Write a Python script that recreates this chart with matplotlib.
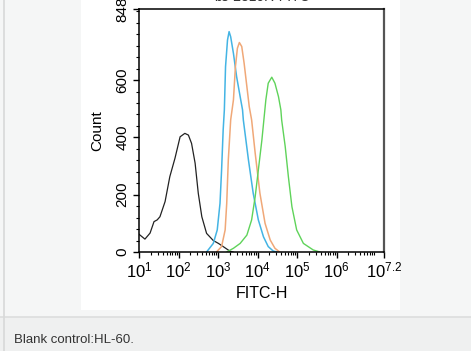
import numpy as np
import matplotlib
matplotlib.use("Agg")
import matplotlib.pyplot as plt
from matplotlib.patches import Rectangle
from matplotlib.ticker import FixedLocator, NullFormatter, MultipleLocator

# ---- data (log10 FITC-H, count) ----
black_log = [1.00, 1.15, 1.28, 1.38, 1.46, 1.53, 1.66, 1.78, 1.91, 2.04, 2.16, 2.25, 2.33, 2.42, 2.50, 2.59, 2.71, 2.88, 3.01, 3.13, 3.30, 3.38]
black_cnt = [62, 45, 66, 106, 112, 123, 176, 263, 327, 402, 414, 408, 379, 310, 205, 123, 65, 40, 30, 19, 3, 0]

blue_log = [2.71, 2.88, 2.98, 3.05, 3.09, 3.13, 3.16, 3.19, 3.24, 3.28, 3.32, 3.39, 3.47, 3.56, 3.62, 3.64, 3.77, 3.89, 4.02, 4.15, 4.27, 4.40, 4.50]
blue_cnt = [0, 30, 77, 170, 286, 426, 496, 647, 740, 769, 751, 693, 612, 542, 496, 461, 321, 205, 112, 53, 19, 3, 0]

orange_log = [2.96, 3.09, 3.18, 3.22, 3.26, 3.32, 3.39, 3.44, 3.49, 3.54, 3.60, 3.66, 3.73, 3.79, 3.85, 3.94, 4.06, 4.19, 4.32, 4.44, 4.56]
orange_cnt = [0, 19, 77, 170, 321, 461, 531, 647, 711, 731, 717, 659, 577, 507, 461, 345, 205, 100, 42, 13, 0]

green_log = [3.22, 3.39, 3.56, 3.73, 3.85, 3.94, 4.02, 4.11, 4.16, 4.21, 4.27, 4.36, 4.44, 4.53, 4.59, 4.61, 4.70, 4.78, 4.87, 4.99, 5.16, 5.41, 5.58]
green_cnt = [0, 13, 30, 59, 112, 193, 286, 391, 461, 531, 589, 610, 589, 542, 496, 461, 368, 263, 158, 77, 30, 7, 0]

x_ticks_exp = [1, 2, 3, 4, 5, 6, 7.2]
x_tick_labels = ["$10^{1}$", "$10^{2}$", "$10^{3}$", "$10^{4}$", "$10^{5}$", "$10^{6}$", "$10^{7.2}$"]
y_ticks = [0, 200, 400, 600, 848]
y_tick_labels = ["0", "200", "400", "600", "848"]

W, H = 471, 351
plt.rcParams['font.family'] = ['Liberation Sans', 'DejaVu Sans']
plt.rcParams['mathtext.fontset'] = 'custom'
plt.rcParams['mathtext.rm'] = 'Liberation Sans'
plt.rcParams['mathtext.it'] = 'Liberation Sans'

fig = plt.figure(figsize=(W / 100, H / 100), dpi=100)
fig.patch.set_facecolor('#f5f6f6')

def fx(px):
    return px / W

def fy(py):
    return 1 - py / H

# page decorations
fig.add_artist(Rectangle((0, 0), 1, fy(316.5), transform=fig.transFigure, facecolor='#eff0f0', edgecolor='none', zorder=0))
fig.add_artist(Rectangle((fx(81), fy(310)), fx(400) - fx(81), fy(0) - fy(310), transform=fig.transFigure,
                         facecolor='white', edgecolor='none', zorder=0))
fig.add_artist(plt.Line2D([0, 1], [fy(316.5), fy(316.5)], transform=fig.transFigure, color='#dcdddd', lw=1.2))
fig.add_artist(plt.Line2D([fx(3.5), fx(3.5)], [0, 1], transform=fig.transFigure, color='#d8d9d9', lw=1.2))
fig.text(fx(14), fy(340), "Blank control:HL-60.", fontsize=9.5, color='#333333', va='center', ha='left')

ax = fig.add_axes([fx(139), fy(252), fx(384) - fx(139), fy(9) - fy(252)])
ax.set_facecolor('white')

ax.plot(10 ** np.array(black_log), black_cnt, color='#222222', lw=0.9)
ax.plot(10 ** np.array(blue_log), blue_cnt, color='#44b4e4', lw=1.1)
ax.plot(10 ** np.array(orange_log), orange_cnt, color='#f0a878', lw=1.1)
ax.plot(10 ** np.array(green_log), green_cnt, color='#5fd35a', lw=1.0)

ax.set_xscale('log')
ax.set_xlim(10 ** 1, 10 ** 7.2)
ax.set_ylim(0, 848)
ax.set_xticks([10 ** e for e in x_ticks_exp])
ax.set_xticklabels(x_tick_labels, fontsize=12)
minors = [m * 10 ** d for d in range(1, 8) for m in range(2, 10) if m * 10 ** d < 10 ** 7.2]
ax.xaxis.set_minor_locator(FixedLocator(minors))
ax.xaxis.set_minor_formatter(NullFormatter())
ax.set_yticks(y_ticks)
ax.set_yticklabels(y_tick_labels, fontsize=11, rotation=90, va='center')
ax.yaxis.set_minor_locator(MultipleLocator(40))

ax.tick_params(axis='both', which='major', direction='out', length=4, width=1, color='black', pad=2)
ax.tick_params(axis='both', which='minor', direction='out', length=2, width=0.8, color='black')
ax.tick_params(axis='y', which='major', length=4, pad=3)
for s in ['left', 'bottom', 'top']:
    ax.spines[s].set_color('black')
    ax.spines[s].set_linewidth(1.1)
ax.spines['right'].set_color('#555555')
ax.spines['right'].set_linewidth(1.6)

ax.set_xlabel('FITC-H', fontsize=11.5, labelpad=4)
ax.set_ylabel('Count', fontsize=11, labelpad=8)

# cut-off title
fig.text(fx(262), fy(-3), "bs-2310R-FITC", fontsize=10, color='#333333', ha='center', va='center')

fig.savefig('out.png', dpi=100, facecolor=fig.get_facecolor())
